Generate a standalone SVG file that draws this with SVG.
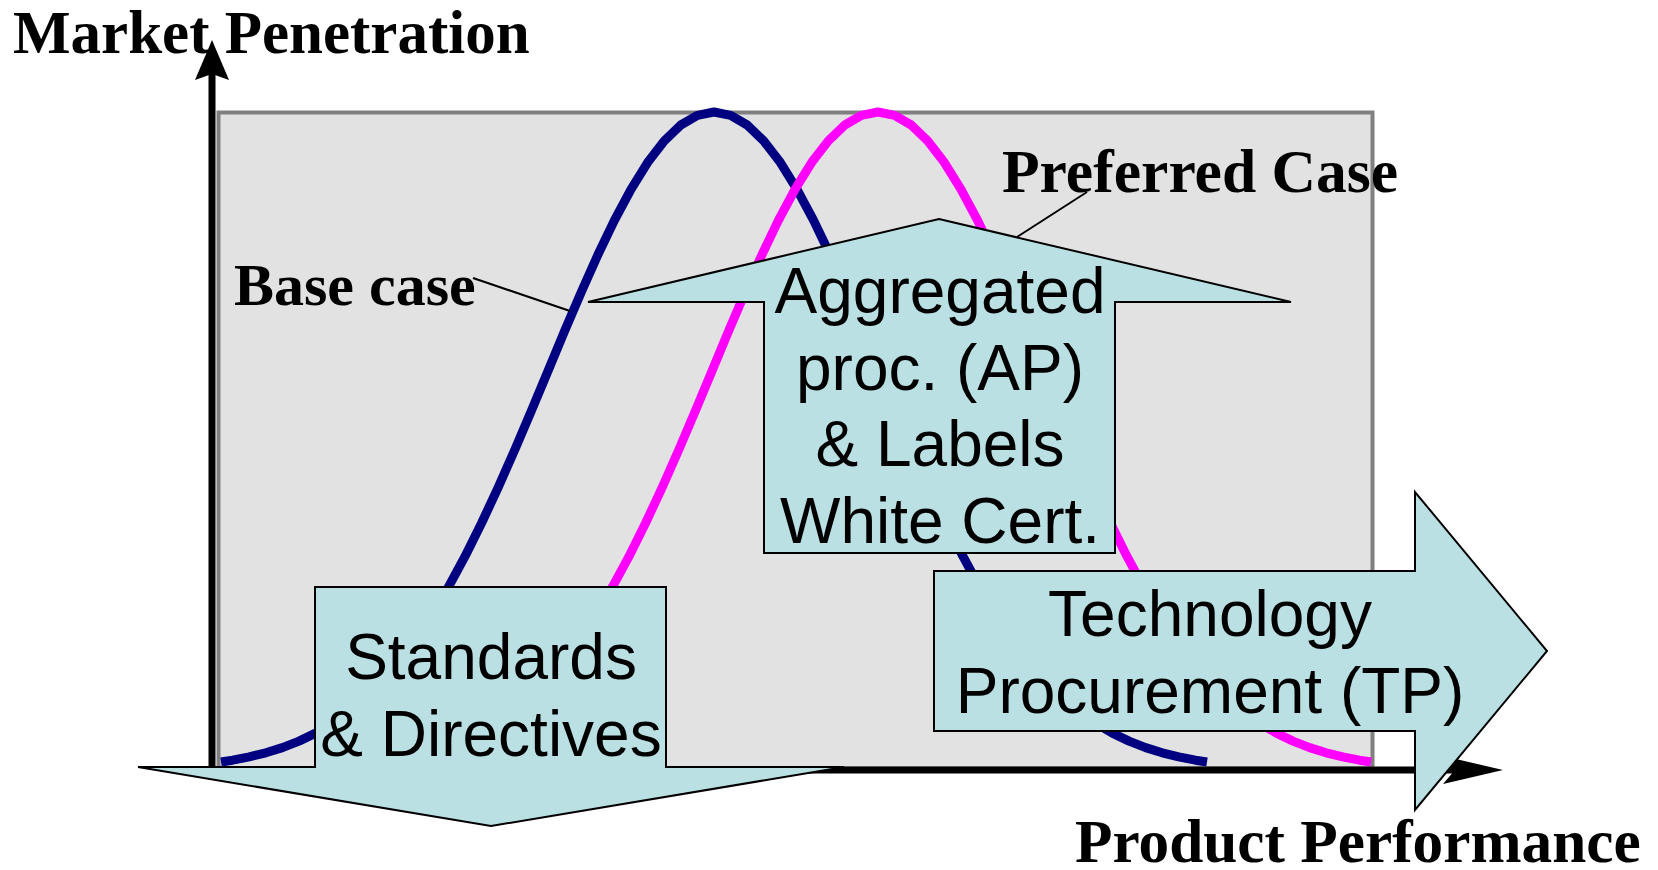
<svg xmlns="http://www.w3.org/2000/svg" xmlns:xlink="http://www.w3.org/1999/xlink" width="1658" height="870" viewBox="0 0 1658 870">
<style>
.serif{font-family:"Liberation Serif","Times New Roman",serif;font-weight:bold;font-size:61px;fill:#000}
.sans{font-family:"Liberation Sans",Arial,sans-serif;font-size:64px;fill:#000;text-anchor:middle}
.block{fill:#bbe0e3;stroke:#000;stroke-width:2;stroke-linejoin:miter}
.curve{fill:none;stroke-width:9;stroke-linejoin:round;stroke-linecap:butt}
.leader{stroke:#000;stroke-width:2;fill:none}
.axis{stroke:#000;stroke-width:7;fill:none}
</style>
<defs>
<path id="bell" d="M-493,762 L-481.4,760.2 L-464.8,756.9 L-448.2,752.8 L-431.6,747.6 L-415,741.1 L-398.4,733.1 L-381.8,723.3 L-365.2,711.5 L-348.6,697.5 L-332,680.9 L-315.4,661.8 L-298.8,639.8 L-282.2,614.9 L-265.6,587.1 L-249,556.4 L-232.4,523 L-215.8,487.4 L-199.2,449.7 L-182.6,410.7 L-166,370.9 L-149.4,331.1 L-132.8,292.2 L-116.2,255 L-99.6,220.4 L-83,189.3 L-66.4,162.6 L-49.8,141 L-33.2,125 L-16.6,115.3 L0,112 L16.6,115.3 L33.2,125 L49.8,141 L66.4,162.6 L83,189.3 L99.6,220.4 L116.2,255 L132.8,292.2 L149.4,331.1 L166,370.9 L182.6,410.7 L199.2,449.7 L215.8,487.4 L232.4,523 L249,556.4 L265.6,587.1 L282.2,614.9 L298.8,639.8 L315.4,661.8 L332,680.9 L348.6,697.5 L365.2,711.5 L381.8,723.3 L398.4,733.1 L415,741.1 L431.6,747.6 L448.2,752.8 L464.8,756.9 L481.4,760.2 L493,762"/>
</defs>
<g id="plot-area">
<rect x="218.5" y="112.5" width="1154" height="656" fill="#e2e2e2" stroke="#808080" stroke-width="4"/>
</g>
<g id="curves">
<use xlink:href="#bell" href="#bell" class="curve" stroke="#000080" transform="translate(714,0)"/>
<use xlink:href="#bell" href="#bell" class="curve" stroke="#ff00ff" transform="translate(878,0)"/>
</g>
<g id="connectors">
<line class="axis" x1="212" y1="773" x2="212" y2="72"/>
<polygon points="212,40 229,80 212,74 195,80" fill="#000"/>
<line class="axis" x1="208" y1="770" x2="1460" y2="770"/>
<polygon points="1503,770 1443,784 1455,770 1443,756" fill="#000"/>
<line class="leader" x1="473" y1="278" x2="570" y2="311"/>
<line class="leader" x1="1087" y1="192" x2="1017" y2="237"/>
</g>
<g id="aggregated-procurement">
<polygon class="block" points="939,219 1291,302 1115,302 1115,553 764,553 764,302 588,302"/>
<text class="sans" x="940" y="313">Aggregated</text>
<text class="sans" x="940" y="390">proc. (AP)</text>
<text class="sans" x="940" y="466">&amp; Labels</text>
<text class="sans" x="940" y="543">White Cert.</text>
</g>
<g id="standards">
<polygon class="block" points="315,587 666,587 666,767 844,767 491,826 138,767 315,767"/>
<text class="sans" x="491" y="679">Standards</text>
<text class="sans" x="491" y="756">&amp; Directives</text>
</g>
<g id="technology-procurement">
<polygon class="block" points="934,571 1415,571 1415,492 1547,651 1415,810 1415,731 934,731"/>
<text class="sans" x="1210" y="636">Technology</text>
<text class="sans" x="1210" y="713">Procurement (TP)</text>
</g>
<g id="labels">
<text class="serif" x="13" y="53">Market Penetration</text>
<text class="serif" x="1002" y="192" style="font-size:61.6px">Preferred Case</text>
<text class="serif" x="234" y="305" style="font-size:60px">Base case</text>
<text class="serif" x="1075" y="862" style="font-size:61.3px">Product Performance</text>
</g>
</svg>
